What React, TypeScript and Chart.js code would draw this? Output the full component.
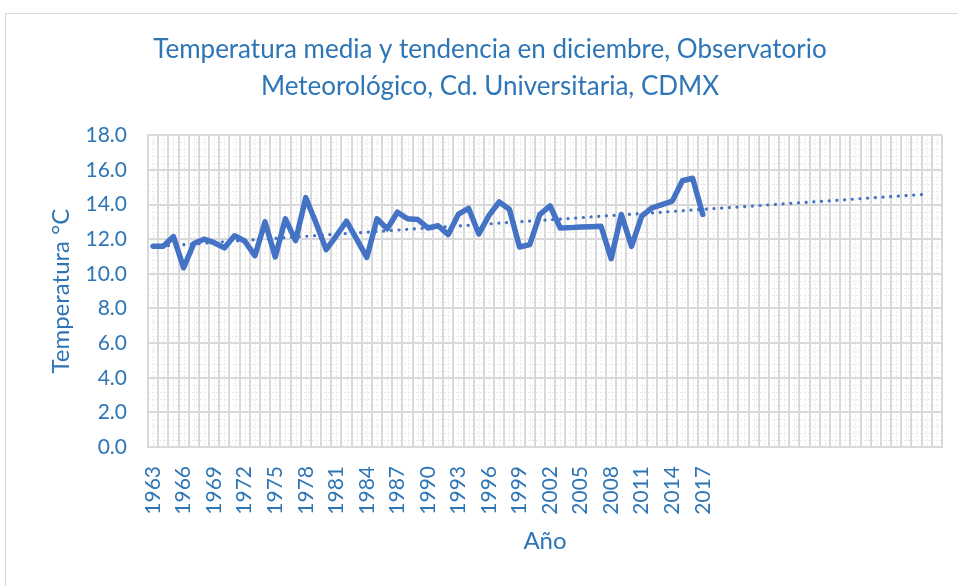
import React, { useEffect, useRef } from "react";
import { Chart, registerables } from "chart.js";

Chart.register(...registerables);

const years: string[] = [
  "1963","1964","1965","1966","1967","1968","1969","1970","1971","1972",
  "1973","1974","1975","1976","1977","1978","1979","1980","1981","1982",
  "1983","1984","1985","1986","1987","1988","1989","1990","1991","1992",
  "1993","1994","1995","1996","1997","1998","1999","2000","2001","2002",
  "2003","2004","2005","2006","2007","2008","2009","2010","2011","2012",
  "2013","2014","2015","2016","2017","2018","2019","2020","2021","2022",
  "2023","2024","2025","2026","2027","2028","2029","2030","2031","2032",
  "2033","2034","2035","2036","2037","2038","2039","2040",
];

const lastDataYear = 2017;

const temperatures: number[] = [
  11.6, 11.6, 12.15, 10.35, 11.75, 12.0, 11.8, 11.5, 12.2, 11.9,
  11.05, 13.0, 10.98, 13.18, 11.92, 14.4, 12.95, 11.4, 12.2, 13.04,
  12.0, 10.95, 13.18, 12.6, 13.56, 13.18, 13.14, 12.65, 12.78, 12.27,
  13.45, 13.78, 12.3, 13.38, 14.15, 13.73, 11.55, 11.69, 13.43, 13.92,
  12.65, 12.67, 12.7, 12.72, 12.75, 10.88, 13.43, 11.59, 13.33, 13.81,
  14.0, 14.2, 15.38, 15.52, 13.43,
];

// Trend line (linear): start and end points
const trendStartYear = "1963";
const trendStartValue = 11.57;
const trendEndYear = "2039";
const trendEndValue = 14.6;

const yTickValues: number[] = [0, 2, 4, 6, 8, 10, 12, 14, 16, 18];

const BLUE_TEXT = "#2E75B6";
const LINE_BLUE = "#4472C4";
const GRID = "#d9d9d9";
const FONT = "Lato, 'Liberation Sans', sans-serif";

export default function App() {
  const ref = useRef<HTMLCanvasElement | null>(null);

  useEffect(() => {
    if (!ref.current) return;
    const trend: (number | null)[] = years.map((y) =>
      y === trendStartYear ? trendStartValue : y === trendEndYear ? trendEndValue : null
    );

    const minorGrid = {
      id: "minorGrid",
      beforeDraw(chart: any) {
        const { ctx, chartArea, scales } = chart;
        const xs = scales.x;
        const ys = scales.y;
        ctx.save();
        ctx.strokeStyle = "#e8e8e8";
        ctx.lineWidth = 1;
        ctx.setLineDash([2, 2]);
        for (let i = 0; i < years.length; i++) {
          const px = Math.round(xs.getPixelForValue(i)) + 0.5;
          ctx.beginPath();
          ctx.moveTo(px, chartArea.top);
          ctx.lineTo(px, chartArea.bottom);
          ctx.stroke();
        }
        for (let k = 0; k < yTickValues.length - 1; k++) {
          for (let m = 1; m < 5; m++) {
            const v = yTickValues[k] + (m * (yTickValues[k + 1] - yTickValues[k])) / 5;
            const py = Math.round(ys.getPixelForValue(v)) + 0.5;
            ctx.beginPath();
            ctx.moveTo(chartArea.left, py);
            ctx.lineTo(chartArea.right, py);
            ctx.stroke();
          }
        }
        ctx.restore();
      },
    };

    const frame = {
      id: "frame",
      afterDraw(chart: any) {
        const { ctx } = chart;
        ctx.save();
        ctx.strokeStyle = "#d9d9d9";
        ctx.lineWidth = 1;
        ctx.strokeRect(5.5, 13.5, 1000, 1000);
        ctx.restore();
      },
    };

    const chart = new Chart(ref.current, {
      type: "line",
      data: {
        labels: years,
        datasets: [
          {
            label: "Temperatura media",
            data: temperatures,
            borderColor: LINE_BLUE,
            backgroundColor: LINE_BLUE,
            borderWidth: 5.5,
            pointRadius: 0,
            borderJoinStyle: "round",
            borderCapStyle: "round",
            tension: 0,
            order: 1,
          },
          {
            label: "Tendencia",
            data: trend,
            borderColor: LINE_BLUE,
            borderWidth: 3.2,
            borderDash: [0.1, 7.6],
            borderCapStyle: "round",
            pointRadius: 0,
            spanGaps: true,
            tension: 0,
            order: 2,
          },
        ],
      },
      options: {
        responsive: false,
        animation: false,
        layout: { padding: { left: 38, right: 16, top: 0, bottom: 0 } },
        plugins: {
          legend: { display: false },
          tooltip: { enabled: false },
          title: {
            display: true,
            text: [
              "Temperatura media y tendencia en diciembre, Observatorio",
              "Meteorológico, Cd. Universitaria, CDMX",
            ],
            color: BLUE_TEXT,
            font: { family: FONT, size: 26, weight: "normal", lineHeight: 1.42 },
            padding: { top: 31.5, bottom: 30 },
          },
        },
        scales: {
          x: {
            type: "category",
            offset: true,
            grid: { display: true, offset: true, color: GRID, lineWidth: 2, drawTicks: false },
            border: { display: true, color: GRID, width: 2 },
            ticks: {
              autoSkip: false,
              minRotation: 90,
              maxRotation: 90,
              padding: 19,
              color: BLUE_TEXT,
              font: { family: FONT, size: 21 },
              callback: function (this: any, _v: any, idx: number) {
                const y = parseInt(years[idx], 10);
                return idx % 3 === 0 && y <= lastDataYear ? years[idx] : "";
              },
            },
            title: {
              display: true,
              text: "Año",
              color: BLUE_TEXT,
              font: { family: FONT, size: 24 },
              padding: { top: 30, bottom: 30 },
            },
            afterFit(scale: any) {
              scale.height = 139;
              scale.paddingLeft = 0;
              scale.paddingRight = 0;
            },
          },
          y: {
            min: 0,
            max: 18,
            grid: { color: GRID, lineWidth: 2, drawTicks: false },
            border: { display: true, color: GRID, width: 2 },
            ticks: {
              stepSize: 2,
              padding: 21,
              color: BLUE_TEXT,
              font: { family: FONT, size: 21 },
              callback: (v: any) => Number(v).toFixed(1),
            },
            title: {
              display: true,
              text: "Temperatura °C",
              color: BLUE_TEXT,
              font: { family: FONT, size: 24 },
              padding: { top: 9, bottom: 0 },
            },
            afterFit(scale: any) {
              scale.width = 110;
            },
          },
        },
      },
      plugins: [minorGrid, frame],
    });
    return () => chart.destroy();
  }, []);

  return (
    <div style={{ position: "fixed", left: 0, top: 0, width: 958, height: 586, background: "#fff" }}>
      <canvas ref={ref} width={958} height={586} style={{ display: "block" }} />
    </div>
  );
}
